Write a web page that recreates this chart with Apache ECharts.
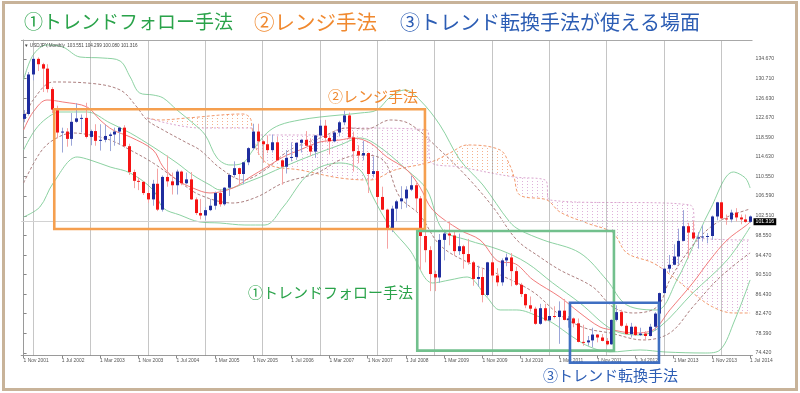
<!DOCTYPE html>
<html><head><meta charset="utf-8">
<script src="https://cdn.jsdelivr.net/npm/echarts@6/dist/echarts.min.js"></script>
<style>html,body{margin:0;padding:0;background:#fff}#c{width:800px;height:393px}</style>
</head><body><div id="c"></div>
<script>
// ---- monthly USDJPY candles, Nov 2001 .. Jul 2014 (index 0..152) ----
const open = [122.4,123.4,
131.5,134.7,133.6,132.7,128.5,124.3,119.6,119.8,118.3,121.8,122.5,122.6,
118.7,119.9,117.9,118.1,118.9,119.2,119.8,120.6,116.8,111.5,109.7,109.5,
107.2,105.9,109.1,103.8,110.5,109.6,108.8,111.6,109.2,110.0,105.9,103.1,
102.6,103.7,104.6,107.2,104.9,108.3,110.9,112.3,111.1,113.5,116.4,119.8,
117.8,117.2,116.0,117.6,113.9,112.6,114.4,114.6,117.5,118.1,116.9,115.7,
119.0,121.0,118.5,117.8,119.6,121.7,123.1,118.6,115.8,114.9,115.4,111.1,
111.7,106.4,103.8,99.7,104.0,105.5,106.1,107.9,108.8,106.1,98.4,95.5,
90.6,89.9,97.6,98.9,98.5,95.3,96.3,94.7,93.0,89.6,90.0,86.3,
93.0,90.3,88.9,93.4,94.0,91.2,88.4,86.5,84.2,83.5,80.4,83.6,
81.1,82.0,81.8,83.1,81.2,81.5,80.5,76.7,76.6,77.0,78.2,77.6,
76.9,76.2,81.2,82.8,80.0,78.3,79.8,78.1,78.4,77.9,79.8,82.5,
86.7,91.7,92.5,94.2,97.4,100.4,99.1,97.9,98.1,98.3,98.4,102.4,
105.3,102.0,101.8,103.2,102.2,101.8,101.3];
const high = [124.2,132.0,
135.2,135.0,133.9,133.6,128.9,125.1,120.6,120.5,123.6,125.6,123.3,125.7,
120.2,121.3,121.3,121.2,119.6,120.6,120.8,121.1,117.3,112.0,110.4,109.6,
107.7,109.9,112.2,110.8,114.9,111.4,112.0,111.8,111.4,111.5,106.3,106.0,
104.3,106.0,107.5,108.0,108.4,111.2,113.7,112.4,113.6,116.6,121.4,121.4,
118.0,119.0,119.2,118.7,114.1,116.0,117.6,117.6,118.3,119.9,118.4,119.1,
122.2,122.2,119.0,119.9,122.0,124.1,123.7,119.8,117.0,117.9,115.5,114.7,
111.8,108.5,104.0,104.6,105.8,108.6,108.6,110.7,109.3,106.6,100.6,96.3,
91.3,98.8,99.7,101.4,99.4,98.9,96.6,97.8,93.3,92.3,91.8,93.1,
93.8,91.8,93.8,94.8,94.9,92.1,88.8,86.6,86.0,83.9,84.5,84.5,
83.6,84.0,85.0,85.5,82.0,81.7,81.5,80.2,77.9,79.6,78.3,78.3,
77.5,81.3,84.2,83.3,80.5,80.6,80.0,79.6,78.9,80.4,82.8,86.8,
91.8,94.5,96.7,99.9,103.7,101.1,101.5,99.2,100.6,99.0,102.6,105.4,
105.4,102.8,103.8,104.1,102.8,102.8,102.6];
const low = [121.7,123.1,
130.3,132.2,127.9,127.8,123.6,118.4,115.5,116.7,116.9,121.6,119.6,118.4,
117.0,116.9,115.9,117.6,115.8,116.9,117.1,116.5,110.9,108.2,107.8,106.8,
105.2,104.6,103.5,103.4,108.5,106.9,106.9,108.8,109.0,105.8,102.7,101.8,
101.7,103.5,103.8,104.4,104.6,106.6,110.4,108.9,109.0,112.9,116.0,115.0,
113.4,115.4,115.5,113.8,108.9,111.2,113.7,114.0,115.5,116.8,114.8,114.4,
118.5,117.6,115.1,117.6,118.8,121.1,118.2,111.6,113.3,113.9,107.2,110.4,
104.9,103.7,95.8,99.2,101.4,103.9,104.2,107.6,103.5,91.5,93.0,87.1,
87.1,88.8,93.4,96.5,94.4,94.5,91.7,92.5,88.2,88.0,84.8,86.0,
88.9,88.1,88.2,92.2,88.1,88.2,85.9,83.6,82.9,80.2,80.2,80.9,
81.0,81.5,76.3,81.1,79.6,79.7,76.6,75.9,75.9,75.6,76.6,76.8,
76.0,76.1,80.9,79.8,78.2,77.6,77.9,77.9,77.1,77.8,79.0,81.7,
86.6,90.9,92.4,92.6,97.3,93.8,97.6,95.8,97.3,96.9,97.6,101.6,
101.8,100.7,101.2,101.4,100.8,101.1,101.1];
const close = [123.4,131.5,
134.7,133.6,132.7,128.5,124.3,119.6,119.8,118.3,121.8,122.5,122.6,118.7,
119.9,117.9,118.1,118.9,119.2,119.8,120.6,116.8,111.5,109.7,109.5,107.2,
105.9,109.1,103.8,110.5,109.6,108.8,111.6,109.2,110.0,105.9,103.1,102.6,
103.7,104.6,107.2,104.9,108.3,110.9,112.3,111.1,113.5,116.4,119.8,117.8,
117.2,116.0,117.6,113.9,112.6,114.4,114.6,117.5,118.1,116.9,115.7,119.0,
121.0,118.5,117.8,119.6,121.7,123.1,118.6,115.8,114.9,115.4,111.1,111.7,
106.4,103.8,99.7,104.0,105.5,106.1,107.9,108.8,106.1,98.4,95.5,90.6,
89.9,97.6,98.9,98.5,95.3,96.3,94.7,93.0,89.6,90.0,86.3,93.0,
90.3,88.9,93.4,94.0,91.2,88.4,86.5,84.2,83.5,80.4,83.6,81.1,
82.0,81.8,83.1,81.2,81.5,80.5,76.7,76.6,77.0,78.2,77.6,76.9,
76.2,81.2,82.8,80.0,78.3,79.8,78.1,78.4,77.9,79.8,82.5,86.7,
91.7,92.5,94.2,97.4,100.4,99.1,97.9,98.1,98.3,98.4,102.4,105.3,
102.0,101.8,103.2,102.2,101.8,101.3,102.4];

// ---- axis ticks ----
const xTickIdx = [0,8,16,24,32,40,48,56,64,72,80,88,96,104,112,120,128,136,144,152];
const xTickLabels = ['1 Nov 2001','1 Jul 2002','1 Mar 2003','1 Nov 2003','1 Jul 2004','1 Mar 2005','1 Nov 2005','1 Jul 2006','1 Mar 2007','1 Nov 2007','1 Jul 2008','1 Mar 2009','1 Nov 2009','1 Jul 2010','1 Mar 2011','1 Nov 2011','1 Jul 2012','1 Mar 2013','1 Nov 2013','1 Jul 2014'];
const yTicks = [134.670,130.710,126.630,122.670,118.590,114.630,110.550,106.590,102.510,98.550,94.470,90.510,86.430,82.470,78.390,74.420];
const januaryIdx = [2,14,26,38,50,62,74,86,98,110,122,134,146];
const lastPrice = 101.316;
const headerText = '\u25BC USDJPY,Monthly  103.551 104.299 100.080 101.316';

// ---- indicator lines: [month index, price] ----
const redLine = [[0,120.12],[2,123.81],[4.9,126.27],[8.2,125.86],[13.3,124.83],[16,122.17],[18.7,120.12],[22.3,118.69],[27.1,116.02],[29.2,112.54],[32.1,109.88],[35.4,108.24],[39,107.21],[43.8,108.24],[47.4,110.49],[50.9,112.54],[54.3,114.59],[57.8,116.02],[62,117.66],[66.2,118.07],[68.9,118.48],[72.5,117.46],[76,114.59],[80.2,111.93],[82.9,108.44],[85.6,103.73],[91.3,99.63],[95.5,97.58],[99.7,93.07],[102.4,92.87],[106.6,89.39],[112.2,85.90],[116.4,82.62],[120.6,79.75],[123.3,79.14],[127.5,78.52],[131.7,79.14],[135.2,83.24],[140,88.77],[143.6,93.48],[147.2,97.58],[151.3,100.65],[152,101.27]];
const greenUpper = [[0,130.37],[2,135.49],[4.9,137.54],[8.2,137.13],[11.8,135.08],[16.6,134.87],[20.2,134.26],[22.3,130.98],[24.3,127.70],[27.1,127.29],[29.2,126.68],[32.1,124.21],[35.4,121.56],[38,119.10],[40.5,114.38],[43.2,112.95],[45.9,113.36],[48,116.02],[50.9,119.51],[53.6,121.15],[57.8,122.17],[62,122.78],[66.2,123.19],[70.4,123.60],[73.9,124.21],[76.7,126.88],[79.8,128.32],[82.9,126.27],[87.1,121.15],[91.3,113.98],[96.1,108.85],[101.7,101.27],[103.8,99.63],[108.7,97.58],[116.4,94.92],[122,89.39],[126.2,84.26],[132.5,83.24],[136.7,89.39],[140,96.14],[143.6,103.73],[148.5,111.51],[151,110.28],[152,108.24]];
const greenMiddle = [[0,116.02],[2.4,120.12],[4.9,122.58],[7.6,123.81],[13.3,123.81],[18.1,121.56],[22.3,119.51],[27.1,116.64],[32.1,113.36],[35.4,110.90],[39,108.85],[41.1,107.83],[48,109.88],[54.3,112.54],[60.5,115.0],[66.2,117.05],[70.4,118.48],[73.9,117.05],[80.2,111.93],[84.4,107.83],[87.7,99.63],[92.8,97.58],[99.7,95.53],[105.3,92.87],[110.7,88.77],[116.4,84.67],[123.3,79.14],[129,78.11],[133.1,79.75],[140,86.72],[147.2,93.48],[152,100.24]];
const greenLower = [[0,102.29],[3.4,104.34],[6.2,109.26],[11.2,114.59],[13.9,113.98],[18.1,112.54],[22.3,111.31],[27.1,107.83],[29.2,104.14],[32.7,102.70],[36.9,101.27],[41.1,101.06],[46.3,100.65],[50.5,100.65],[54.3,104.34],[59.9,111.31],[66.2,113.36],[70.4,111.93],[73.1,106.39],[76.7,100.24],[80.8,95.53],[85.6,88.77],[89.2,89.39],[92.8,90.00],[96.9,85.90],[99.7,83.24],[103.2,83.24],[108,81.80],[110.7,80.57],[114.9,77.70],[118.5,75.66],[122.7,74.63],[129,75.04],[134.2,74.63],[142.6,74.42],[145.7,75.04],[148.8,81.19],[152,89.39]];
const brownUpper = [[0,122.17],[2,126.27],[6.2,129.96],[13.3,129.75],[20.2,128.32],[23.7,124.83],[25.8,122.17],[29.2,120.12],[34.2,117.46],[36.9,116.02],[41.1,112.33],[45.9,109.88],[50.5,111.93],[55.7,116.02],[62,118.48],[67.7,120.53],[71.8,120.33],[76.7,122.17],[80.8,121.35],[87.1,116.02],[92.8,110.49],[98.2,104.34],[103.2,97.58],[108,94.10],[112.2,91.44],[119.1,87.95],[123.3,83.85],[127.5,82.62],[132.5,83.85],[135.2,89.39],[138.8,94.92],[143,99.63],[147.2,102.29],[151.3,103.73],[152,103.93]];
const brownLower = [[0,109.26],[3.4,115.41],[6.2,118.07],[10.3,119.51],[13.9,119.10],[18.1,118.07],[22.3,116.02],[27.1,113.36],[32.1,109.88],[36.9,106.80],[43.8,105.16],[48.8,106.39],[54.3,109.26],[61.4,111.31],[66.2,113.98],[70.4,115.00],[75.2,113.98],[78.7,106.39],[82.9,102.70],[87.1,96.55],[92.8,93.07],[99.7,90.41],[106.6,86.92],[112.2,82.21],[117.4,79.55],[122.7,78.52],[129.6,77.09],[135.2,78.52],[140,83.85],[145.1,89.39],[150,93.48],[152,94.92]];
const spanA = [[25.8,122.58],[28.5,122.17],[34.2,122.58],[45.9,123.40],[47.4,122.58],[47.8,120.53],[48.8,116.02],[51.5,112.95],[57.8,111.93],[66.2,110.28],[72.5,109.88],[77.7,111.93],[85.2,113.56],[89.2,115.41],[92.8,117.05],[99.7,116.02],[101.7,112.95],[102.6,110.49],[103.8,106.80],[109.5,105.78],[112.2,103.32],[117.8,101.06],[123.3,99.01],[126.2,94.92],[131.7,92.87],[135.9,90.00],[140,86.72],[144.2,83.85],[148.5,82.62],[152,82.62]];
const spanB = [[25.8,122.58],[36.9,120.53],[47.8,120.53],[48.4,119.10],[64.1,119.10],[66.2,120.53],[84.4,120.12],[85.2,113.56],[91.3,112.54],[102.6,110.49],[109.1,109.88],[110.1,105.78],[139.4,104.75],[141.1,97.99],[152,97.58]];
// cloud segments: [from index, to index, colour key]
const cloudSegments = [[25.8,47.8,'a'],[47.8,85.2,'b'],[85.2,102.6,'a'],[102.6,152,'b']];

// ---- annotation boxes in data space: [x0, priceTop, x1, priceBottom] ----
const rangeBox = [6.42,124.36,83.97,99.83];
const trendBox = [82.36,99.42,123.51,74.90];
const reversalBox = [114.31,84.73,132.93,72.44];

const C_GREEN='#2aa34a', C_ORANGE='#f0892f', C_BLUE='#2c5db4';

function hatch(color){
  const c=document.createElement('canvas'); c.width=5; c.height=3;
  const g=c.getContext('2d'); g.fillStyle=color; g.fillRect(2,1,1,1); return c;
}
const hatchImg = {a: hatch('#f5b08e'), b: hatch('#dfb0da')};

const candleData = open.map((o,i)=>[i,o,high[i],low[i],close[i]]);

const chart = echarts.init(document.getElementById('c'), null, {renderer:'canvas'});
const lineS = (name,data,color,type,z)=>({name,type:'line',data,smooth:0.35,symbol:'none',z:z||2,silent:true,
  lineStyle:{color,width:1,type:type||'solid'}});

chart.setOption({
  animation:false,
  backgroundColor:'#fff',
  grid:{left:21.2,right:47.5,top:40,bottom:37.5},
  xAxis:{type:'value',min:-0.5,max:152.5,
    axisLine:{show:true,lineStyle:{color:'#9a9a9a'}},
    axisTick:{show:true,customValues:xTickIdx,length:3,lineStyle:{color:'#888'}},
    axisLabel:{customValues:xTickIdx,formatter:v=>xTickLabels[xTickIdx.indexOf(v)]||'',align:'left',
      fontSize:4.9,color:'#555',margin:3,fontFamily:'Liberation Sans'},
    splitLine:{show:false}},
  yAxis:{type:'value',position:'right',min:73.908,max:138.564,
    axisLine:{show:true,lineStyle:{color:'#9a9a9a'}},
    axisTick:{show:true,customValues:yTicks,length:3,lineStyle:{color:'#888'}},
    axisLabel:{customValues:yTicks,formatter:v=>v.toFixed(3),fontSize:5.2,color:'#555',margin:3,fontFamily:'Liberation Sans'},
    splitLine:{show:false}},
  series:[
    {type:'custom',name:'cloud',z:1,silent:true,data:cloudSegments.map((s,i)=>[i]),
     renderItem:(params,api)=>{
       const s=cloudSegments[params.dataIndex];
       const top=spanA.filter(p=>p[0]>=s[0]&&p[0]<=s[1]);
       const bot=spanB.filter(p=>p[0]>=s[0]&&p[0]<=s[1]).slice().reverse();
       const pts=top.concat(bot).map(p=>api.coord(p));
       return {type:'polygon',shape:{points:pts},style:{fill:{image:hatchImg[s[2]],repeat:'repeat'}}};
     }},
    {type:'line',name:'frame',data:[],z:1,silent:true,
     markLine:{silent:true,symbol:'none',animation:false,
       data:januaryIdx.map(v=>({xAxis:v,lineStyle:{color:'#8c8c8c',type:'dotted',width:1},label:{show:false}}))
         .concat([{yAxis:lastPrice,lineStyle:{color:'#d2d2d2',type:'solid',width:1},
           label:{show:true,position:'end',formatter:lastPrice.toFixed(3),backgroundColor:'#000',color:'#fff',
             fontSize:5.2,padding:[1,2],distance:1,fontFamily:'Liberation Sans'}}])}},
    lineS('spanA',spanA,'#f29a6e',[3,2],2),
    lineS('spanB',spanB,'#dba6cf',[2,2],2),
    lineS('greenUpper',greenUpper,'#8cd2a2'),
    lineS('greenMiddle',greenMiddle,'#8cd2a2'),
    lineS('greenLower',greenLower,'#8cd2a2'),
    lineS('brownUpper',brownUpper,'#ad8080',[3,2]),
    lineS('brownLower',brownLower,'#ad8080',[3,2]),
    lineS('red',redLine,'#f27c7c'),
    {type:'custom',name:'candles',z:5,silent:true,data:candleData,encode:{x:0,y:[1,2,3,4]},
     renderItem:(params,api)=>{
       const i=api.value(0),o=api.value(1),h=api.value(2),l=api.value(3),c=api.value(4);
       const po=api.coord([i,o]),pc=api.coord([i,c]),ph=api.coord([i,h]),pl=api.coord([i,l]);
       const cx=Math.round(po[0]); const up=c>=o;
       const t=Math.min(po[1],pc[1]), b=Math.max(po[1],pc[1]);
       return {type:'group',children:[
         {type:'line',shape:{x1:cx+0.5,y1:ph[1],x2:cx+0.5,y2:pl[1]},style:{stroke:up?'#9ba6d8':'#f5a3a3',lineWidth:1}},
         {type:'rect',shape:{x:cx-1,y:t,width:3,height:Math.max(1,b-t)},style:{fill:up?'#1f2d9e':'#f51414'}}
       ]};
     }}
  ]
});

function boxRect(bx,color){
  const p0=chart.convertToPixel({gridIndex:0},[bx[0],bx[1]]);
  const p1=chart.convertToPixel({gridIndex:0},[bx[2],bx[3]]);
  return {type:'rect',z:100,silent:true,shape:{x:p0[0],y:p0[1],width:p1[0]-p0[0],height:p1[1]-p0[1]},
    style:{fill:'none',stroke:color,lineWidth:2.6}};
}
const jp = "'Noto Sans CJK JP','Noto Sans CJK SC',sans-serif";
const txt=(x,y,s,color,size)=>({type:'text',z:110,silent:true,x,y,
  style:{text:s,fill:color,fontSize:size,fontFamily:jp,verticalAlign:'middle',align:'left'}});
chart.setOption({graphic:[
  {type:'rect',z:0,silent:true,shape:{x:3.5,y:2.5,width:793,height:387},style:{fill:'none',stroke:'#c8b399',lineWidth:3}},
  {type:'line',z:50,silent:true,shape:{x1:21,y1:40.5,x2:752.5,y2:40.5},style:{stroke:'#a8a8a8',lineWidth:1}},
  boxRect(rangeBox,'#f59f4f'),
  boxRect(trendBox,'#72c08d'),
  boxRect(reversalBox,'#3f6fc2'),
  txt(24,22,'①トレンドフォロー手法',C_GREEN,19),
  txt(254,22,'②レンジ手法',C_ORANGE,20.5),
  txt(400,22,'③トレンド転換手法が使える場面',C_BLUE,20),
  txt(328,96.5,'②レンジ手法',C_ORANGE,15),
  txt(248,292,'①トレンドフォロー手法',C_GREEN,15),
  txt(543,375,'③トレンド転換手法',C_BLUE,15),
  {type:'text',z:110,silent:true,x:24,y:46,style:{text:headerText,fill:'#444',fontSize:4.6,fontFamily:'Liberation Sans',verticalAlign:'middle'}}
]});
</script></body></html>
